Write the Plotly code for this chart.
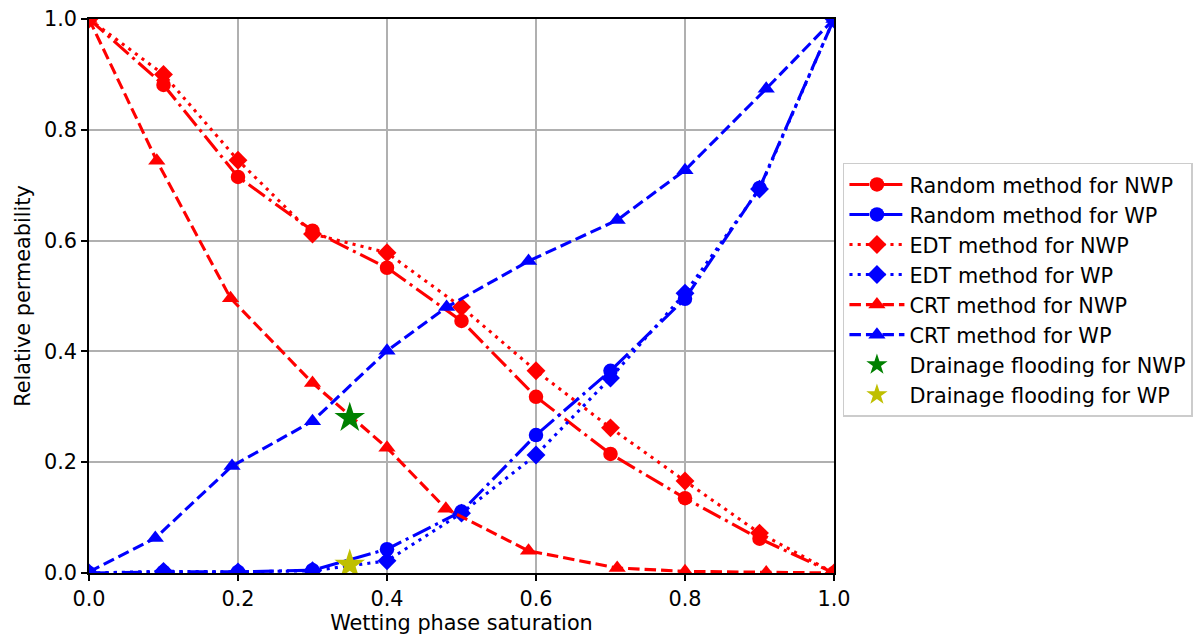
import plotly.graph_objects as go

# ---- data ----
sw = [0.0, 0.1, 0.2, 0.3, 0.4, 0.5, 0.6, 0.7, 0.8, 0.9, 1.0]
random_nwp = [1.0, 0.881, 0.715, 0.618, 0.551, 0.455, 0.318, 0.215, 0.135, 0.062, 0.0]
random_wp = [0.0, 0.002, 0.002, 0.005, 0.043, 0.111, 0.249, 0.365, 0.495, 0.695, 1.0]
edt_nwp = [1.0, 0.9, 0.745, 0.612, 0.578, 0.48, 0.365, 0.262, 0.166, 0.072, 0.0]
edt_wp = [0.0, 0.003, 0.002, 0.004, 0.022, 0.108, 0.213, 0.352, 0.505, 0.693, 1.0]
crt_x = [0.0, 0.091, 0.19, 0.3, 0.4, 0.479, 0.59, 0.709, 0.8, 0.909, 1.0]
crt_nwp = [1.0, 0.744, 0.496, 0.343, 0.226, 0.116, 0.04, 0.009, 0.003, 0.001, 0.0]
crt_wp_x = [0.0, 0.089, 0.192, 0.3, 0.4, 0.48, 0.59, 0.709, 0.8, 0.909, 1.0]
crt_wp = [0.002, 0.063, 0.193, 0.274, 0.401, 0.48, 0.563, 0.637, 0.727, 0.874, 1.0]
drain_x = [0.35]
drain_nwp = [0.28]
drain_wp = [0.015]
ticks = [0.0, 0.2, 0.4, 0.6, 0.8, 1.0]

RED = "#ff0000"
BLUE = "#0000ff"
LW = 3.1
DASH = "11.5px,5px"
DASHDOT = "19.9px,5px,3.1px,5px"
DOT = "3.1px,5.1px"

fig = go.Figure()

def add(x, y, name, color, dash, symbol, size):
    fig.add_trace(go.Scatter(
        x=x, y=y, name=name, mode="lines+markers",
        line=dict(color=color, width=LW, dash=dash),
        marker=dict(color=color, symbol=symbol, size=size, line=dict(width=0)),
    ))

add(sw, random_nwp, "Random method for NWP", RED, DASHDOT, "circle", 14.5)
add(sw, random_wp, "Random method for WP", BLUE, DASHDOT, "circle", 14.5)
add(sw, edt_nwp, "EDT method for NWP", RED, DOT, "diamond", 14.5)
add(sw, edt_wp, "EDT method for WP", BLUE, DOT, "diamond", 14.5)
add(crt_x, crt_nwp, "CRT method for NWP", RED, DASH, "triangle-up", 15)
add(crt_wp_x, crt_wp, "CRT method for WP", BLUE, DASH, "triangle-up", 15)

fig.add_trace(go.Scatter(x=drain_x, y=drain_nwp, name="Drainage flooding for NWP", mode="markers",
                         marker=dict(color="#008000", symbol="star", size=23, line=dict(width=0))))
fig.add_trace(go.Scatter(x=drain_x, y=drain_wp, name="Drainage flooding for WP", mode="markers",
                         marker=dict(color="#bfbf00", symbol="star", size=23, line=dict(width=0))))

FONT = dict(family="DejaVu Sans", size=20.8, color="black")
axis_common = dict(
    range=[0, 1], tickvals=ticks, tickformat=".1f", automargin=False,
    showgrid=True, gridcolor="#b0b0b0", gridwidth=1.6,
    zeroline=False, showline=True, mirror=True, linecolor="black", linewidth=1.6,
    ticks="outside", ticklen=6, tickwidth=1.6, tickcolor="black",
    tickfont=FONT,
)

fig.update_layout(
    width=1196, height=637,
    margin=dict(l=89, r=362, t=19, b=64, autoexpand=False),
    paper_bgcolor="white", plot_bgcolor="white",
    font=FONT,
    xaxis=dict(**axis_common, title=dict(text="Wetting phase saturation", font=FONT, standoff=6)),
    yaxis=dict(**axis_common, title=dict(text="Relative permeability", font=FONT, standoff=8)),
    legend=dict(x=1.012, y=0.511, xanchor="left", yanchor="middle",
                bgcolor="rgba(255,255,255,0.8)", bordercolor="#cccccc", borderwidth=1.5,
                font=FONT, itemwidth=55, itemsizing="trace", tracegroupgap=0),
    showlegend=True,
)

fig.write_html("out.html")
